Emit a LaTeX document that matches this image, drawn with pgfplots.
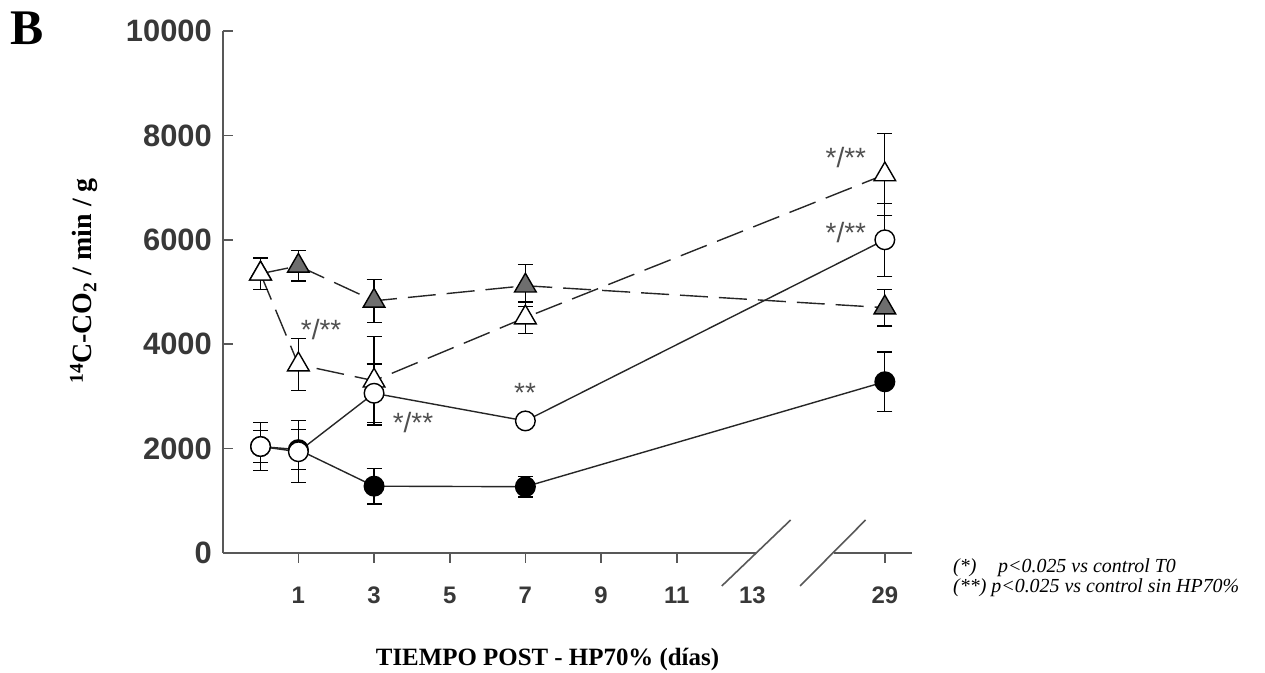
\documentclass[border=0pt]{standalone}
\usepackage{pgfplots}
\pgfplotsset{compat=1.18}
\usepackage{fontspec}
\setmainfont{Liberation Serif}
\newfontfamily\arial{Liberation Sans}

\definecolor{axisgray}{HTML}{585858}
\definecolor{labelgray}{HTML}{383838}
\definecolor{trifill}{HTML}{6E6E6E}
\definecolor{stargray}{HTML}{505050}

\newcommand{\fs}[1]{\fontsize{#1}{#1}\selectfont}

% Day 29 is drawn after the axis break, at position 16.5
\pgfplotstableread{
x    y     e
0    2040  300
1    1980  380
3    1280  340
7    1270  200
16.5 3280  570
}\filledcircle
\pgfplotstableread{
x    y     e
0    2040  460
1    1940  595
3    3060  560
7    2530  100
16.5 6000  700
}\opencircle
\pgfplotstableread{
x    y     e
0    5350  300
1    5500  290
3    4830  415
7    5120  400
16.5 4700  350
}\graytriangle
\pgfplotstableread{
x    y     e
0    5350  300
1    3610  495
3    3300  850
7    4510  300
16.5 7250  790
}\opentriangle

\pgfplotsset{
  errb/.style={
    error bars/.cd, y dir=both, y explicit,
    error bar style={solid, line width=1.3bp, black},
    error mark options={rotate=90, mark size=7.5bp, line width=1.3bp, black, solid},
  },
  ser/.style={line width=1.4bp, color=black!85},
}

\begin{document}
\begin{tikzpicture}[x=1bp,y=1bp]
\useasboundingbox (-222.7,-120) rectangle (1042.3,553);
\begin{axis}[
  at={(0,0)}, anchor=south west,
  scale only axis, width=689bp, height=522bp,
  xmin=-1, xmax=17.21, ymin=0, ymax=10000,
  clip=false,
  axis x line*=bottom, axis y line*=left,
  x axis line style={draw=none},
  y axis line style={draw=axisgray, line width=2.2bp},
  xtick align=outside, ytick align=inside,
  major tick length=10bp,
  tick style={axisgray, line width=1.6bp},
  xtick={1,3,5,7,9,11,16.5},
  xticklabels={1,3,5,7,9,11,29},
  extra x ticks={13},
  extra x tick labels={13},
  extra x tick style={major tick length=0pt, xticklabel style={yshift=-10bp}},
  ytick={0,2000,4000,6000,8000,10000},
  yticklabels={0,2000,4000,6000,8000,10000},
  scaled y ticks=false,
  xticklabel style={font=\arial\bfseries\fs{24}, text=labelgray, anchor=north, inner sep=0pt, yshift=-24bp},
  yticklabel style={font=\arial\bfseries\fs{31}, text=labelgray, anchor=east, inner sep=0pt, xshift=-10.7bp},
]
% x axis, interrupted at the break
\draw[axisgray, line width=2.2bp] (axis cs:-1,0) -- (axis cs:13.09,0);
\draw[axisgray, line width=2.2bp] (axis cs:15.16,0) -- (axis cs:17.21,0);
\draw[axisgray, line width=1.6bp] (axis cs:12.19,-632) -- (axis cs:14.01,632);
\draw[axisgray, line width=1.6bp] (axis cs:14.26,-632) -- (axis cs:15.99,632);

\addplot[ser, solid, mark=*, mark size=9.8bp, mark options={fill=black, draw=black, solid}, errb]
  table[x=x, y=y, y error=e] {\filledcircle};
\addplot[ser, dash pattern=on 28bp off 11bp, mark=triangle*, mark size=12.5bp, mark options={fill=trifill, draw=black, solid}, errb]
  table[x=x, y=y, y error=e] {\graytriangle};
\addplot[ser, dash pattern=on 28bp off 11bp, mark=triangle*, mark size=12.5bp, mark options={fill=white, draw=black, solid}, errb]
  table[x=x, y=y, y error=e] {\opentriangle};
\addplot[ser, solid, mark=*, mark size=9.8bp, mark options={fill=white, draw=black, solid}, errb]
  table[x=x, y=y, y error=e] {\opencircle};

% significance marks
\node[font=\arial\fs{28}, text=stargray] at (axis cs:1.60,4272) {*/**};
\node[font=\arial\fs{28}, text=stargray] at (axis cs:4.03,2490) {*/**};
\node[font=\arial\fs{28}, text=stargray] at (axis cs:6.99,3065) {**};
\node[font=\arial\fs{28}, text=stargray] at (axis cs:15.47,7567) {*/**};
\node[font=\arial\fs{28}, text=stargray] at (axis cs:15.47,6130) {*/**};
\end{axis}

% panel letter and axis titles
\node[anchor=base west, inner sep=0pt, font=\bfseries\fs{50}] at (-212.7,508) {B};
\node[rotate=90, inner sep=0pt, font=\bfseries\fs{28}] at (-138.7,272)
  {\textsuperscript{14}C-CO\textsubscript{2} / min / g};
\node[anchor=base, inner sep=0pt, font=\bfseries\fs{25}] at (324.8,-113)
  {TIEMPO POST - HP70\% (días)};

% footnote
\node[anchor=base west, inner sep=0pt, font=\itshape\fs{20}] at (730.3,-20) {(*)};
\node[anchor=base west, inner sep=0pt, font=\itshape\fs{20}] at (775.3,-20) {p<0.025 vs control T0};
\node[anchor=base west, inner sep=0pt, font=\itshape\fs{20}] at (730.3,-40) {(**) p<0.025 vs control sin HP70\%};
\end{tikzpicture}
\end{document}
